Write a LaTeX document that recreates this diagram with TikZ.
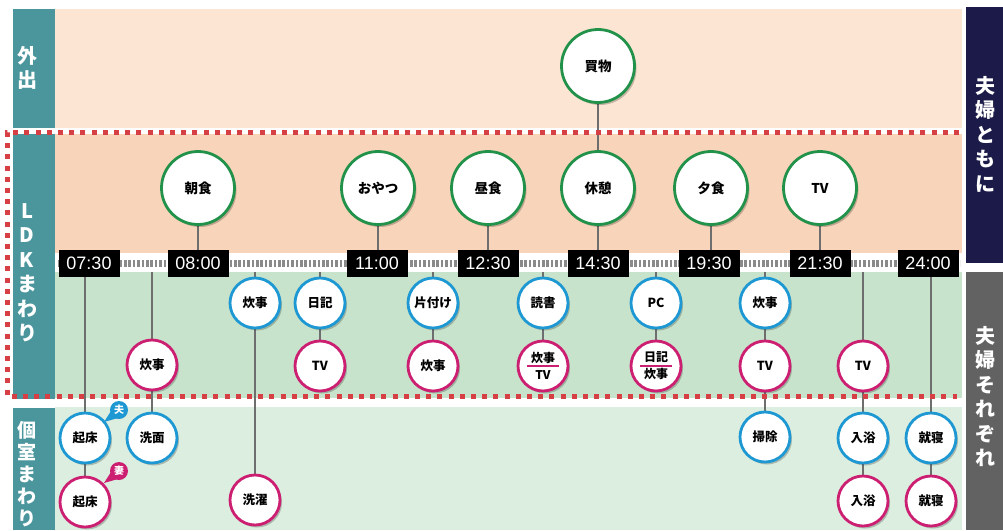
\documentclass[tikz,border=0pt]{standalone}
\usepackage{fontspec}
\setmainfont{Noto Sans CJK JP}
\newfontfamily\timefont{Liberation Sans}
\usetikzlibrary{shadows}
\definecolor{gcol}{HTML}{22924A}
\definecolor{bcol}{HTML}{1E98D3}
\definecolor{pcol}{HTML}{CC1F72}
\definecolor{tealc}{HTML}{4A969C}
\definecolor{navyc}{HTML}{1B1A48}
\definecolor{grayr}{HTML}{626262}
\definecolor{outc}{HTML}{FCE6D3}
\definecolor{peachc}{HTML}{F8D4BA}
\definecolor{greenc}{HTML}{C8E3CB}
\definecolor{roomc}{HTML}{DCEEDF}
\definecolor{reddot}{HTML}{D64045}
\definecolor{connc}{HTML}{6E6E6E}
\definecolor{tickc}{HTML}{8A8A8A}
\pgfdeclarelayer{bands}
\pgfdeclarelayer{lines}
\pgfdeclarelayer{strip}
\pgfsetlayers{bands,lines,strip,main}
\begin{document}
\begin{tikzpicture}[x=1pt,y=-1pt,
  shd/.style={drop shadow={shadow xshift=2pt,shadow yshift=-2.5pt,opacity=0.22,fill=black}},
  big/.style={circle,draw=gcol,line width=2.8pt,fill=white,minimum size=73pt,inner sep=0pt,
    font=\fontsize{13.5}{15}\selectfont\bfseries,shd},
  sm/.style={circle,line width=2.8pt,fill=white,minimum size=50pt,inner sep=0pt,
    font=\fontsize{12.5}{15}\selectfont\bfseries,shd},
  hb/.style={sm,draw=bcol},
  wf/.style={sm,draw=pcol},
  two/.style={wf,align=center,font=\fontsize{12}{17}\selectfont\bfseries},
  timebox/.style={fill=black,text=white,minimum width=61pt,minimum height=27pt,inner sep=0pt,
    font=\timefont\fontsize{18}{18}\selectfont},
  vlab/.style={text=white,align=center,font=\fontsize{20}{24.5}\selectfont\bfseries,inner sep=0pt},
  conn/.style={draw=connc,line width=2.2pt},
  badge/.style={circle,minimum size=18pt,inner sep=0pt,text=white,font=\fontsize{10}{10}\selectfont\bfseries},
  dotline/.style={draw=reddot,line width=5pt,dash pattern=on 5pt off 6.2pt}
]
\useasboundingbox (0,0) rectangle (1003,530);
\begin{pgfonlayer}{bands}
  \fill[outc] (55,9) rectangle (962,128);
  \fill[peachc] (55,134) rectangle (962,253);
  \fill[greenc] (55,272) rectangle (962,398);
  \fill[roomc] (55,407) rectangle (962,530);
  \fill[tealc] (13,9) rectangle (55,128);
  \fill[tealc] (13,134) rectangle (55,399);
  \fill[tealc] (13,408) rectangle (55,530);
  \fill[navyc] (966,7) rectangle (1003,263);
  \fill[grayr] (966,272) rectangle (1003,530);
\end{pgfonlayer}

% labels
\node[vlab,anchor=north] (lout) at (27,46) {外\\出};
\node[vlab,anchor=north] (lldk) at (27,203) {L\\D\\K\\ま\\わ\\り};
\node[vlab,anchor=north,font=\fontsize{19}{22}\selectfont\bfseries] (lroom) at (27,421) {個\\室\\ま\\わ\\り};
\node[vlab,anchor=north] (rtog) at (985,76) {夫\\婦\\と\\も\\に};
\node[vlab,anchor=north] (rsep) at (985,326) {夫\\婦\\そ\\れ\\ぞ\\れ};

% timeline strip
\begin{pgfonlayer}{strip}
  \fill[white] (55,253) rectangle (962,272);
  \draw[tickc,line width=7pt,dash pattern=on 2.6pt off 1.8pt] (58,263.5) -- (960,263.5);
\end{pgfonlayer}
\node[timebox] (t0730) at (89,263) {07:30};
\node[timebox] (t0800) at (198,263) {08:00};
\node[timebox] (t1100) at (377,263) {11:00};
\node[timebox] (t1230) at (488,263) {12:30};
\node[timebox] (t1430) at (598,263) {14:30};
\node[timebox] (t1930) at (709,263) {19:30};
\node[timebox] (t2130) at (820,263) {21:30};
\node[timebox] (t2400) at (928,263) {24:00};

% strip anchor coordinates
\foreach \x in {198,378,488,598,711,820} {\coordinate (top\x) at (\x,253);}
\foreach \x in {85,152,255,320,433,543,656,765,863,931} {\coordinate (bot\x) at (\x,272);}

% green circles
\node[big] (kaimono) at (598,66) {買物};
\node[big] (choshoku) at (198,188) {朝食};
\node[big] (oyatsu) at (378,188) {おやつ};
\node[big] (chushoku) at (488,188) {昼食};
\node[big] (kyukei) at (598,188) {休憩};
\node[big] (yushoku) at (711,188) {夕食};
\node[big] (tvg) at (820,188) {TV};

% small circles
\node[hb] (kishoH) at (85,438) {起床};
\node[wf] (kishoW) at (85,502) {起床};
\node[wf] (suijiA) at (152,365) {炊事};
\node[hb] (senmen) at (152,438) {洗面};
\node[hb] (suijiB) at (255,303) {炊事};
\node[wf] (sentaku) at (255,500) {洗濯};
\node[hb] (nikki) at (320,303) {日記};
\node[wf] (tvA) at (320,366) {TV};
\node[hb] (katazuke) at (433,303) {片付け};
\node[wf] (suijiC) at (433,366) {炊事};
\node[hb] (dokusho) at (543,303) {読書};
\node[two] (suijiTV) at (543,366) {炊事\\TV};
\node[hb] (pc) at (656,303) {PC};
\node[two] (nikkiSuiji) at (656,366) {日記\\炊事};
\node[hb] (suijiD) at (765,303) {炊事};
\node[wf] (tvB) at (765,366) {TV};
\node[hb] (soji) at (765,437) {掃除};
\node[wf] (tvC) at (863,366) {TV};
\node[hb] (nyuyokuH) at (863,438) {入浴};
\node[wf] (nyuyokuW) at (863,501) {入浴};
\node[hb] (shushinH) at (931,438) {就寝};
\node[wf] (shushinW) at (931,501) {就寝};

\draw[pcol,line width=1.3pt] ([xshift=-16pt]suijiTV.center) -- ([xshift=16pt]suijiTV.center);
\draw[pcol,line width=1.3pt] ([xshift=-16pt]nikkiSuiji.center) -- ([xshift=16pt]nikkiSuiji.center);

% badges
\node[badge,fill=bcol] (otto) at (119,410) {夫};
\fill[bcol] ([shift={(-8,1)}]otto.center) -- ([shift={(-15,12)}]otto.center) -- ([shift={(-1,8)}]otto.center) -- cycle;
\node[badge,fill=pcol] (tsuma) at (119,471) {妻};
\fill[pcol] ([shift={(-8,1)}]tsuma.center) -- ([shift={(-15,12)}]tsuma.center) -- ([shift={(-1,8)}]tsuma.center) -- cycle;

% connectors
\begin{pgfonlayer}{lines}
  \draw[conn] (kaimono.center) -- (kyukei.center) -- (top598);
  \draw[conn] (choshoku.center) -- (top198);
  \draw[conn] (oyatsu.center) -- (top378);
  \draw[conn] (chushoku.center) -- (top488);
  \draw[conn] (yushoku.center) -- (top711);
  \draw[conn] (tvg.center) -- (top820);
  \draw[conn] (bot85) -- (kishoH.center) -- (kishoW.center);
  \draw[conn] (bot152) -- (suijiA.center) -- (senmen.center);
  \draw[conn] (bot255) -- (suijiB.center) -- (sentaku.center);
  \draw[conn] (bot320) -- (nikki.center) -- (tvA.center);
  \draw[conn] (bot433) -- (katazuke.center) -- (suijiC.center);
  \draw[conn] (bot543) -- (dokusho.center) -- (suijiTV.center);
  \draw[conn] (bot656) -- (pc.center) -- (nikkiSuiji.center);
  \draw[conn] (bot765) -- (suijiD.center) -- (tvB.center) -- (soji.center);
  \draw[conn] (bot863) -- (tvC.center) -- (nyuyokuH.center) -- (nyuyokuW.center);
  \draw[conn] (bot931) -- (shushinH.center) -- (shushinW.center);
\end{pgfonlayer}

% red dotted frame
\draw[dotline] (959,132) -- (7,132) -- (7,396) -- (957,396);
\end{tikzpicture}
\end{document}
